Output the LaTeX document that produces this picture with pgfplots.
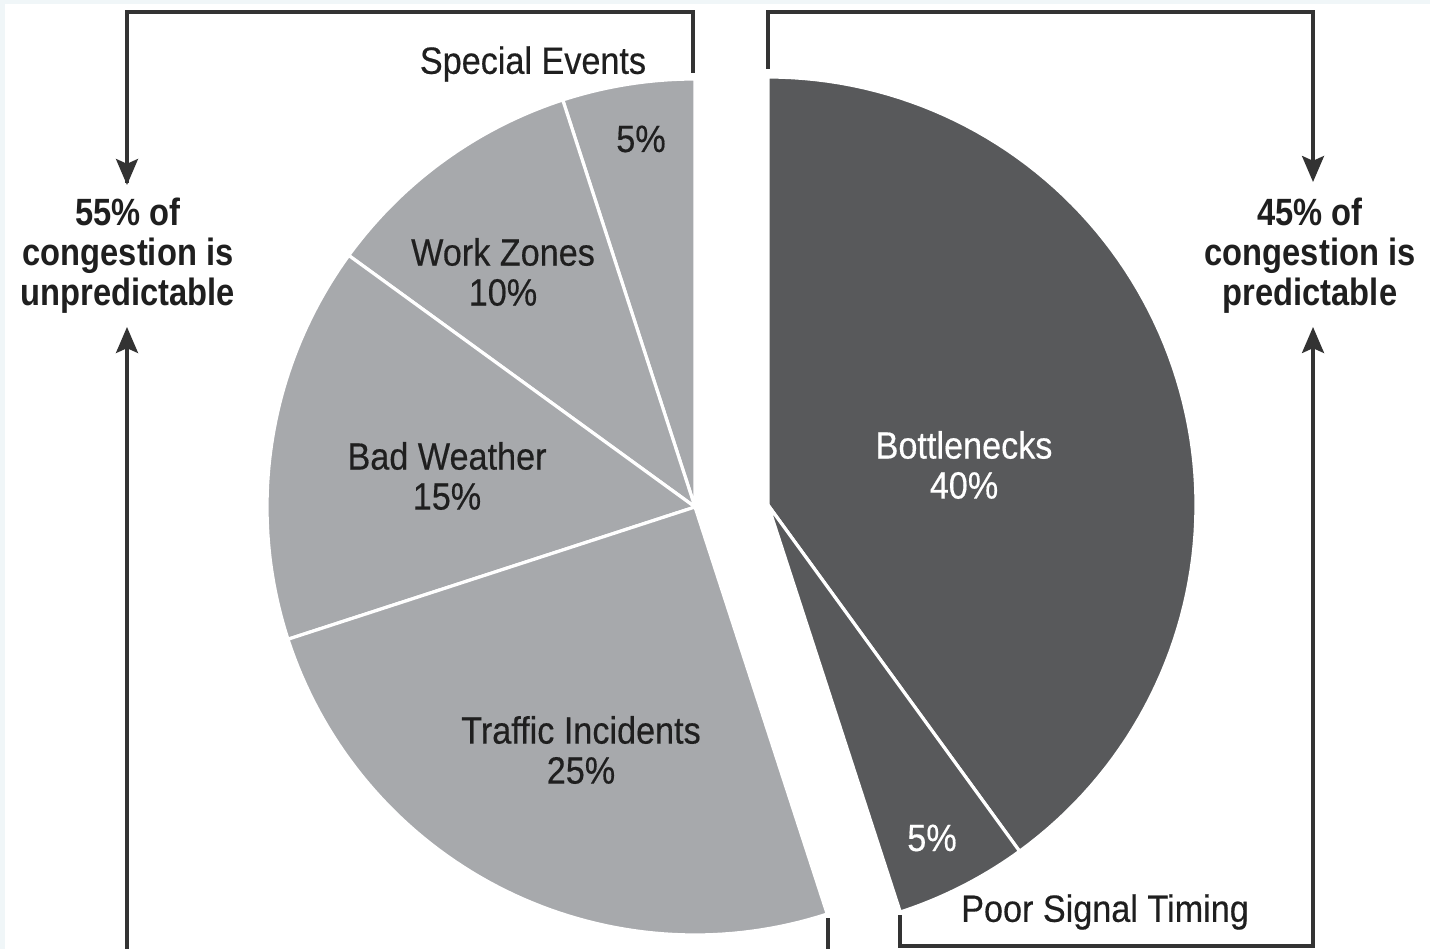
\documentclass[border=0pt]{standalone}
\usepackage{pgfplots}
\pgfplotsset{compat=1.18}
\usetikzlibrary{arrows.meta}
\usepackage{fontspec}
\setmainfont{Liberation Sans}[FakeStretch=0.9, FakeBold=0.4]
\newfontfamily\sidefont{Liberation Sans}[FakeStretch=0.86]
\definecolor{lightg}{HTML}{A7A9AC}
\definecolor{darkg}{HTML}{58595B}
\definecolor{linec}{HTML}{333333}
\definecolor{bgblue}{HTML}{F0F6F8}
\begin{document}
\begin{tikzpicture}
\begin{axis}[
  x=0.25pt, y=0.25pt,
  xmin=0, xmax=1430, ymin=0, ymax=949,
  y dir=reverse,
  hide axis,
  clip=true,
  axis line style={draw=none},
]
% background
\fill[bgblue] (axis cs:0,0) rectangle (axis cs:1430,949);
\fill[white] (axis cs:5,4) rectangle (axis cs:1430,949);

% ---- left part (unpredictable, 55%) : center (695,507), R=428
% Special Events 5%
\addplot[fill=lightg, draw=white, line width=0.8pt, domain={90}:{90+3.6*5}, samples=40, variable=\t]
  ({695+428*cos(t)}, {507-428*sin(t)}) -- (axis cs:695,507) -- cycle;
% Work Zones 10%
\addplot[fill=lightg, draw=white, line width=0.8pt, domain={90+3.6*5}:{90+3.6*15}, samples=40, variable=\t]
  ({695+428*cos(t)}, {507-428*sin(t)}) -- (axis cs:695,507) -- cycle;
% Bad Weather 15%
\addplot[fill=lightg, draw=white, line width=0.8pt, domain={90+3.6*15}:{90+3.6*30}, samples=50, variable=\t]
  ({695+428*cos(t)}, {507-428*sin(t)}) -- (axis cs:695,507) -- cycle;
% Traffic Incidents 25%
\addplot[fill=lightg, draw=white, line width=0.8pt, domain={90+3.6*30}:{90+3.6*55}, samples=70, variable=\t]
  ({695+428*cos(t)}, {507-428*sin(t)}) -- (axis cs:695,507) -- cycle;

% ---- right part (predictable, 45%) : center (768,505), R=428
% Bottlenecks 40%
\addplot[fill=darkg, draw=white, line width=0.8pt, domain={90-3.6*40}:{90}, samples=90, variable=\t]
  ({768+428*cos(t)}, {505-428*sin(t)}) -- (axis cs:768,505) -- cycle;
% Poor Signal Timing 5%
\addplot[fill=darkg, draw=white, line width=0.8pt, domain={90-3.6*45}:{90-3.6*40}, samples=30, variable=\t]
  ({768+428*cos(t)}, {505-428*sin(t)}) -- (axis cs:768,505) -- cycle;

% ---- brackets and arrows
\draw[linec, line width=0.8pt] (axis cs:693,73) -- (axis cs:693,12) -- (axis cs:127,12)
  -- (axis cs:127,183);
\draw[linec, line width=0.8pt, -{Stealth[length=6.5pt,width=5.5pt,inset=1.2pt]}] (axis cs:127,150) -- (axis cs:127,185);
\draw[linec, line width=0.8pt, -{Stealth[length=6.5pt,width=5.5pt,inset=1.2pt]}] (axis cs:127,960) -- (axis cs:127,327);
\draw[linec, line width=0.8pt] (axis cs:828,918) -- (axis cs:828,960);

\draw[linec, line width=0.8pt] (axis cs:768,69) -- (axis cs:768,12) -- (axis cs:1313,12)
  -- (axis cs:1313,150);
\draw[linec, line width=0.8pt, -{Stealth[length=6.5pt,width=5.5pt,inset=1.2pt]}] (axis cs:1313,150) -- (axis cs:1313,182);
\draw[linec, line width=0.8pt, -{Stealth[length=6.5pt,width=5.5pt,inset=1.2pt]}] (axis cs:900,915) -- (axis cs:900,946) -- (axis cs:1313,946) -- (axis cs:1313,327);

% ---- labels
\begin{scope}[every node/.style={font=\fontsize{9.5}{10}\selectfont, text=black!88, align=center, inner sep=0pt}]
\node at (axis cs:533,64) {Special Events};
\node at (axis cs:641,139) {5\%};
\node at (axis cs:503,272) {Work Zones\\10\%};
\node at (axis cs:447,476) {Bad Weather\\15\%};
\node at (axis cs:581,750) {Traffic Incidents\\25\%};
\node[text=white] at (axis cs:964,465) {Bottlenecks\\40\%};
\node[text=white] at (axis cs:932,838) {5\%};
\node at (axis cs:1105,912) {Poor Signal Timing};
\end{scope}
\begin{scope}[every node/.style={font=\sidefont\bfseries\fontsize{9.5}{10}\selectfont, text=black!88, align=center, inner sep=0pt}]
\node at (axis cs:128,256) {55\% of\\congestion is\\unpredictable};
\node at (axis cs:1310,256) {45\% of\\congestion is\\predictable};
\end{scope}
\end{axis}
\end{tikzpicture}
\end{document}
